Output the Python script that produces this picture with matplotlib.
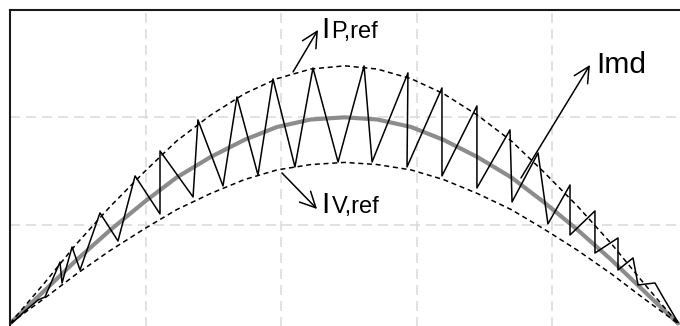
import matplotlib.pyplot as plt

# envelope samples over one half period
x_env = [0.00, 0.25, 0.49, 0.74, 0.99, 1.23, 1.48, 1.73, 1.97, 2.22, 2.47,
         2.71, 2.96, 3.20, 3.45, 3.70, 3.94, 4.19, 4.44, 4.68, 4.93]
i_ref = [0.08, 0.38, 0.67, 0.95, 1.21, 1.44, 1.63, 1.79, 1.91, 1.98, 2.00,
         1.98, 1.91, 1.79, 1.63, 1.44, 1.21, 0.95, 0.67, 0.38, 0.08]
i_peak = [0.08, 0.45, 0.82, 1.17, 1.49, 1.78, 2.02, 2.22, 2.36, 2.45, 2.48,
          2.45, 2.36, 2.22, 2.02, 1.78, 1.49, 1.17, 0.82, 0.45, 0.08]
i_valley = [0.08, 0.31, 0.54, 0.76, 0.96, 1.14, 1.29, 1.42, 1.51, 1.56, 1.58,
            1.56, 1.51, 1.42, 1.29, 1.14, 0.96, 0.76, 0.54, 0.31, 0.08]

# triangular inductor current between the two envelopes
x_md = [0.015, 0.111, 0.207, 0.258, 0.369, 0.384, 0.458, 0.517, 0.664, 0.797,
        0.923, 1.107, 1.107, 1.351, 1.387, 1.572, 1.675, 1.830, 1.941, 2.103,
        2.236, 2.421, 2.613, 2.672, 2.937, 2.930, 3.188, 3.188, 3.446, 3.446,
        3.690, 3.705, 3.897, 3.970, 4.133, 4.133, 4.317, 4.317, 4.487, 4.487,
        4.598, 4.635, 4.760, 4.819, 4.930]
i_md = [0.084, 0.196, 0.298, 0.326, 0.652, 0.457, 0.792, 0.578, 1.109, 0.848,
        1.454, 1.100, 1.687, 1.258, 1.976, 1.361, 2.190, 1.463, 2.358, 1.538,
        2.460, 1.584, 2.479, 1.584, 2.414, 1.538, 2.274, 1.454, 2.106, 1.342,
        1.883, 1.212, 1.668, 1.007, 1.370, 0.904, 1.128, 0.736, 0.876, 0.578,
        0.690, 0.438, 0.457, 0.326, 0.090]

FONT = 'Liberation Sans'

fig = plt.figure(figsize=(6.8, 3.26), dpi=100)
ax = fig.add_axes([10 / 680, -6 / 326, 677.5 / 680, 322 / 326])
ax.set_xlim(0, 5)
ax.set_ylim(0, 3)
ax.set_xticks([1, 2, 3, 4])
ax.set_yticks([1, 2])
ax.tick_params(length=0, labelbottom=False, labelleft=False)
ax.grid(True, color='#dcdcdc', linewidth=1.2, linestyle=(0, (6, 3.6)))
ax.set_axisbelow(True)
for sp in ax.spines.values():
    sp.set_linewidth(1.5)
    sp.set_color('#1a1a1a')

ax.plot(x_env, i_ref, color='#8c8c8c', linewidth=3.0, solid_capstyle='round')
ax.plot(x_env, i_peak, color='black', linewidth=1.1, linestyle=(0, (3.3, 2.4)))
ax.plot(x_env, i_valley, color='black', linewidth=1.1, linestyle=(0, (3.3, 2.4)))
ax.plot(x_md, i_md, color='black', linewidth=1.1)

arrow = dict(arrowstyle='->,head_length=0.8,head_width=0.4', color='black',
             lw=1.1, mutation_scale=14, shrinkA=0, shrinkB=0)
ax.annotate('', xy=(2.273, 2.815), xytext=(2.089, 2.423), arrowprops=arrow)
ax.annotate('', xy=(4.280, 2.488), xytext=(3.771, 1.435), arrowprops=arrow)
ax.annotate('', xy=(2.266, 1.146), xytext=(2.007, 1.482), arrowprops=arrow)

big = dict(family=FONT, fontsize=21.6, va='baseline', ha='left')
small = dict(family=FONT, fontsize=17, va='baseline', ha='left')
ax.text(2.300, 2.740, 'I', **big)
ax.text(2.372, 2.740, 'P,ref', **small)
ax.text(4.327, 2.414, 'Imd', **big)
ax.text(2.300, 1.109, 'I', **big)
ax.text(2.372, 1.109, 'V,ref', **small)

fig.savefig('out.png', dpi=100)
